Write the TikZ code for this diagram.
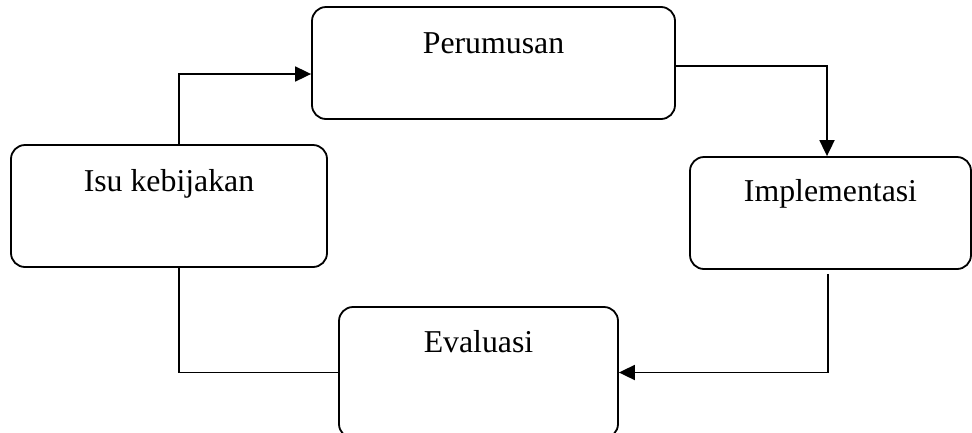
\documentclass[tikz,border=0pt]{standalone}
\usepackage{fontspec}
\setmainfont{Liberation Serif}
\usetikzlibrary{arrows.meta}
\begin{document}
\begin{tikzpicture}[x=1pt,y=-1pt,
 box/.style={draw, line width=1.8pt, rounded corners=14pt, inner sep=0pt},
 lbl/.style={anchor=base, font=\fontsize{31.8}{36}\selectfont, inner sep=0pt},
 conn/.style={line width=1.8pt},
 arr/.style={conn, -{Triangle[length=16pt,width=15pt]}}]
\useasboundingbox (0,0) rectangle (972,432);
\node[box, minimum width=363pt, minimum height=112pt] (per) at (493.5,63) {};
\node[box, minimum width=316pt, minimum height=122pt] (isu) at (169,206) {};
\node[box, minimum width=281pt, minimum height=112pt] (imp) at (830.5,213) {};
\node[box, minimum width=279pt, minimum height=131pt] (eva) at (478.5,372.5) {};
\node[lbl] (perT) at ([yshift=-47pt]per.north) {Perumusan};
\node[lbl] (isuT) at ([yshift=-47pt]isu.north) {Isu kebijakan};
\node[lbl] (impT) at ([yshift=-45pt]imp.north) {Implementasi};
\node[lbl] (evaT) at ([yshift=-46pt]eva.north) {Evaluasi};
\draw[arr] ([xshift=10pt]isu.north) |- ([yshift=-11pt]per.west);
\draw[arr] ([yshift=-3pt]per.east) -| ([xshift=-3.5pt]imp.north);
\draw[arr] ([xshift=-2.5pt,yshift=-4pt]imp.south) |- (eva.east);
\draw[conn] (eva.west) -| ([xshift=10pt]isu.south);
\end{tikzpicture}
\end{document}
